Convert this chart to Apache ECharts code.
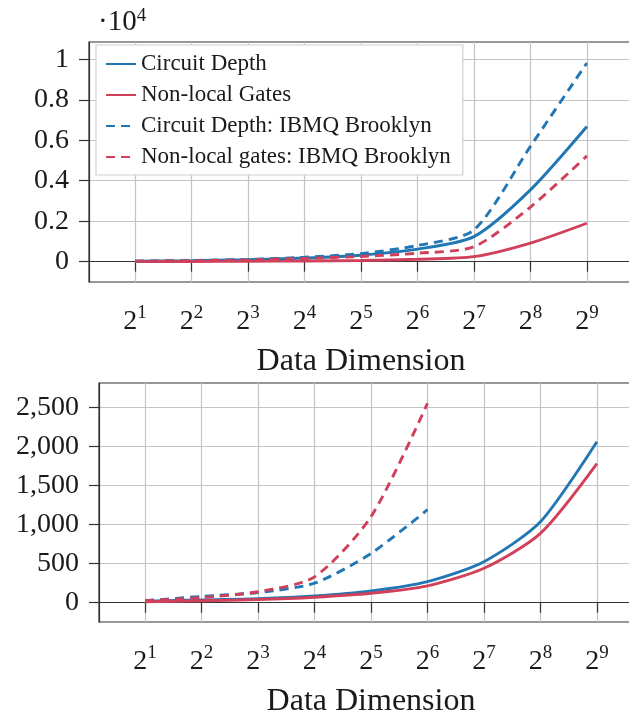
<!DOCTYPE html>
<html><head><meta charset="utf-8">
<script src="https://cdn.jsdelivr.net/npm/echarts@6/dist/echarts.min.js"></script>
<style>html,body{margin:0;padding:0;background:#fff}#c{width:629px;height:716px}</style>
</head><body><div id="c"></div>
<script>
// x positions are log2 of the data dimension (2^1 ... 2^9)
const exponents = [1, 2, 3, 4, 5, 6, 7, 8, 9];
const topYTicks = [0, 2000, 4000, 6000, 8000, 10000];
const bottomYTicks = [0, 500, 1000, 1500, 2000, 2500];

// Top panel
const topCircuitDepth = [25, 50, 100, 180, 320, 620, 1240, 3550, 6680];
const topNonLocalGates = [5, 10, 20, 35, 60, 120, 250, 920, 1900];
const topCircuitDepthIBMQ = [30, 60, 110, 220, 400, 800, 1570, 5700, 9820];
const topNonLocalGatesIBMQ = [20, 45, 85, 160, 260, 420, 740, 2700, 5230];

// Bottom panel
const bottomExponentsIBMQ = [1, 2, 3, 4, 5, 6];
const bottomCircuitDepth = [20, 35, 50, 85, 150, 270, 525, 1035, 2060];
const bottomNonLocalGates = [12, 25, 40, 70, 120, 215, 440, 887, 1780];
const bottomCircuitDepthIBMQ = [25, 80, 130, 250, 630, 1190];
const bottomNonLocalGatesIBMQ = [25, 65, 140, 330, 1100, 2550];

const NAMES = ['Circuit Depth', 'Non-local Gates', 'Circuit Depth: IBMQ Brooklyn', 'Non-local gates: IBMQ Brooklyn'];
const BLUE = '#2077b4';
const RED = '#d0405a';
const FONT = 'Liberation Serif';
const TXT = '#1a1a1a';

const pairs = (xs, ys) => ys.map((y, i) => [xs[i], y]);

function xAxisFor(gridIndex) {
  return {
    type: 'value', gridIndex, min: 0.184, max: 9.816,
    axisLine: { show: true, lineStyle: { color: '#333', width: 1.2 } },
    axisTick: { show: true, customValues: exponents, length: 10, inside: false, lineStyle: { color: '#333', width: 1.2 } },
    axisLabel: {
      customValues: exponents, margin: 22, color: TXT, fontFamily: FONT,
      formatter: v => '{b|2}{s|' + v + '}',
      rich: {
        b: { fontSize: 28, fontFamily: FONT, color: TXT, lineHeight: 32, verticalAlign: 'bottom' },
        s: { fontSize: 19, fontFamily: FONT, color: TXT, lineHeight: 19, verticalAlign: 'top' }
      }
    },
    splitLine: { show: true, lineStyle: { color: '#c4c4c4', width: 1.2 } },
    name: 'Data Dimension', nameLocation: 'middle', nameGap: 64,
    nameTextStyle: { fontFamily: FONT, fontSize: 32, color: TXT }
  };
}

function yAxisFor(gridIndex, min, max, ticks, fmt, extra) {
  return Object.assign({
    type: 'value', gridIndex, min, max,
    axisLine: { show: true, lineStyle: { color: '#333', width: 1.2 } },
    axisTick: { show: true, customValues: ticks, length: 10, inside: false, lineStyle: { color: '#333', width: 1.2 } },
    axisLabel: { customValues: ticks, formatter: fmt, margin: 20, color: TXT, fontFamily: FONT, fontSize: 28 },
    splitLine: { show: true, lineStyle: { color: '#c4c4c4', width: 1.2 } }
  }, extra || {});
}

function line(name, color, dashed, xi, yi, data) {
  return {
    name, type: 'line', xAxisIndex: xi, yAxisIndex: yi, data,
    showSymbol: false, symbol: 'none', smooth: 0.25,
    lineStyle: { color, width: 2.9, type: dashed ? [9, 6] : 'solid' },
    itemStyle: { color },
    emphasis: { disabled: true }
  };
}

const chart = echarts.init(document.getElementById('c'), null, { renderer: 'canvas' });
chart.setOption({
  animation: false,
  backgroundColor: '#fff',
  grid: [
    { left: 89, top: 42, right: -4, bottom: 434, show: true, borderColor: '#333', borderWidth: 1.2, containLabel: false, outerBoundsMode: 'none' },
    { left: 99, top: 383, right: -14, bottom: 94, show: true, borderColor: '#333', borderWidth: 1.2, containLabel: false, outerBoundsMode: 'none' }
  ],
  legend: {
    data: NAMES, orient: 'vertical', left: 96, top: 45,
    backgroundColor: '#fff', borderColor: '#cfcfcf', borderWidth: 1.2,
    padding: [7, 12, 6, 9], itemGap: 7, itemWidth: 30, itemHeight: 14,
    itemStyle: { opacity: 0 },
    textStyle: { fontFamily: FONT, fontSize: 23, color: TXT, lineHeight: 24 },
    selectedMode: false
  },
  xAxis: [xAxisFor(0), xAxisFor(1)],
  yAxis: [
    yAxisFor(0, -1003, 10855, topYTicks, v => String(+(v / 10000).toFixed(1)), {
      name: '{d|·10}{s|4}', nameLocation: 'end', nameGap: 5,
      nameTextStyle: {
        align: 'left', padding: [0, 0, 0, 9],
        rich: {
          d: { fontFamily: FONT, fontSize: 29, color: TXT, lineHeight: 30, verticalAlign: 'bottom' },
          s: { fontFamily: FONT, fontSize: 19, color: TXT, lineHeight: 19, verticalAlign: 'top' }
        }
      }
    }),
    yAxisFor(1, -247, 2811, bottomYTicks, v => v.toLocaleString('en-US'))
  ],
  series: [
    line(NAMES[0], BLUE, false, 0, 0, pairs(exponents, topCircuitDepth)),
    line(NAMES[1], RED, false, 0, 0, pairs(exponents, topNonLocalGates)),
    line(NAMES[2], BLUE, true, 0, 0, pairs(exponents, topCircuitDepthIBMQ)),
    line(NAMES[3], RED, true, 0, 0, pairs(exponents, topNonLocalGatesIBMQ)),
    line(NAMES[0], BLUE, false, 1, 1, pairs(exponents, bottomCircuitDepth)),
    line(NAMES[1], RED, false, 1, 1, pairs(exponents, bottomNonLocalGates)),
    line(NAMES[2], BLUE, true, 1, 1, pairs(bottomExponentsIBMQ, bottomCircuitDepthIBMQ)),
    line(NAMES[3], RED, true, 1, 1, pairs(bottomExponentsIBMQ, bottomNonLocalGatesIBMQ))
  ]
});
</script>
</body></html>
